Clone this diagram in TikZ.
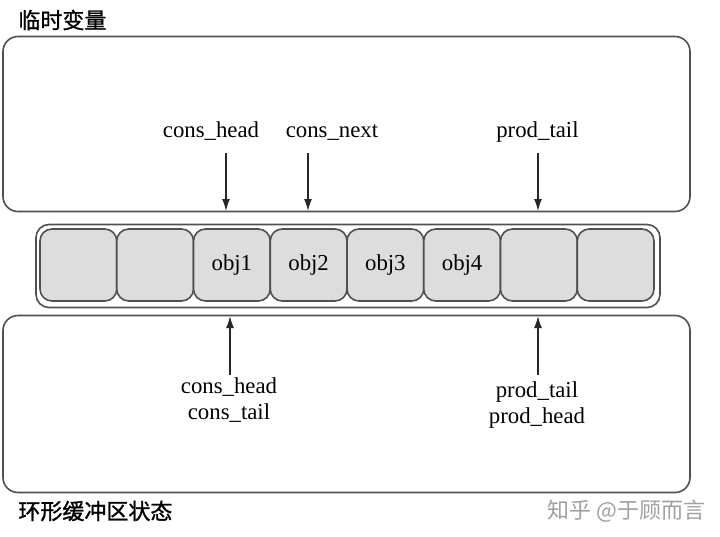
\documentclass[tikz,border=0pt]{standalone}
\usepackage{fontspec}
\setmainfont{Liberation Serif}
\newfontfamily\cjk[FakeBold=1.2]{Noto Sans CJK SC}
\newfontfamily\cjkwm{Noto Sans CJK SC}
\usetikzlibrary{arrows.meta}
\definecolor{edge}{HTML}{505050}
\definecolor{cellfill}{HTML}{DDDDDD}
\definecolor{wm}{HTML}{A0A0A0}
\begin{document}
\begin{tikzpicture}[x=0.5pt,y=-0.5pt,
  bigbox/.style={draw=edge,line width=0.8pt,rounded corners=7.5pt,inner sep=0pt},
  cellbox/.style={draw=edge,line width=0.8pt,fill=cellfill,rounded corners=6pt,inner sep=0pt,
    minimum width=38.4pt,minimum height=36pt,font=\fontsize{11.4}{13}\selectfont},
  lbl/.style={font=\fontsize{11.4}{13}\selectfont,inner sep=0pt,anchor=base},
  title/.style={font=\cjk\fontsize{11}{13}\selectfont,inner sep=0pt,anchor=west},
  ptr/.style={draw=black!85,line width=0.7pt,-{Latex[length=6pt,width=4pt]}}]
\useasboundingbox (0,0) rectangle (720,537);
% boxes
\node[bigbox,minimum width=343.5pt,minimum height=87.5pt] (tmp) at (346.5,124) {};
\node[bigbox,minimum width=343.5pt,minimum height=88.5pt] (ring) at (346.5,404) {};
\node[bigbox,minimum width=312pt,minimum height=41.5pt,rounded corners=6.5pt] (outer) at (348,266) {};
% cells
\foreach \i/\t in {1/,2/,3/obj1,4/obj2,5/obj3,6/obj4,7/,8/}{
  \node[cellbox] (c\i) at ({40+76.75*(\i-1)+38.375},265) {\t};
}
% titles
\node[title] (t1) at (18,20) {临时变量};
\node[title] (t2) at (18,511) {环形缓冲区状态};
\node[title,font=\cjkwm\fontsize{11}{13}\selectfont,text=wm] (wmk) at (547,511) {知乎 @于顾而言};
% top labels
\node[lbl] (ch) at (211,137) {cons\_head};
\node[lbl] (cn) at (332,137) {cons\_next};
\node[lbl] (pt) at (537.5,137) {prod\_tail};
% bottom labels
\node[lbl] (bl1) at (229,393) {cons\_head};
\node[lbl] (bl2) at (229,419) {cons\_tail};
\node[lbl] (br1) at (537,397) {prod\_tail};
\node[lbl] (br2) at (537,423) {prod\_head};
% arrow anchors
\coordinate (a1s) at (226,153); \coordinate (a1e) at (226,211);
\coordinate (a2s) at (308,153); \coordinate (a2e) at (308,211);
\coordinate (a3s) at (538,153); \coordinate (a3e) at (538,211);
\coordinate (b1s) at (230,375); \coordinate (b1e) at (230,316);
\coordinate (b2s) at (538,375); \coordinate (b2e) at (538,316);
\draw[ptr] (a1s) -- (a1e);
\draw[ptr] (a2s) -- (a2e);
\draw[ptr] (a3s) -- (a3e);
\draw[ptr] (b1s) -- (b1e);
\draw[ptr] (b2s) -- (b2e);
\end{tikzpicture}
\end{document}
